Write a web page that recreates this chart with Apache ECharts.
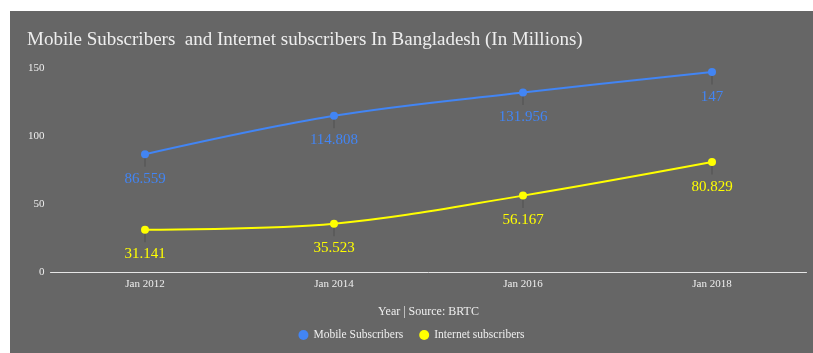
<!DOCTYPE html>
<html>
<head>
<meta charset="utf-8">
<script src="https://cdn.jsdelivr.net/npm/echarts@6/dist/echarts.min.js"></script>
<style>
  html, body { margin: 0; padding: 0; background: #ffffff; }
  #chart { position: absolute; left: 10px; top: 11px; width: 803px; height: 342px; }
</style>
</head>
<body>
<div id="chart"></div>
<script>
const categories = ['Jan 2012', 'Jan 2014', 'Jan 2016', 'Jan 2018'];
const mobileSubscribers = [86.559, 114.808, 131.956, 147];
const internetSubscribers = [31.141, 35.523, 56.167, 80.829];
const seriesNames = ['Mobile Subscribers', 'Internet subscribers'];
const titleText = 'Mobile Subscribers  and Internet subscribers In Bangladesh (In Millions)';
const xAxisName = 'Year | Source: BRTC';

const FONT = '"Liberation Serif", "DejaVu Serif", serif';
const BLUE = '#4285F4';
const YELLOW = '#FFFF00';
const LEADER = '#595959';

function leaderSeries(data) {
  return {
    type: 'scatter',
    data: data,
    symbol: 'rect',
    symbolSize: [2, 13],
    symbolOffset: [0, 6],
    itemStyle: { color: LEADER },
    silent: true,
    z: 1,
    legendHoverLink: false,
    tooltip: { show: false }
  };
}

function lineSeries(name, data, color) {
  return {
    name: name,
    type: 'line',
    data: data,
    smooth: 0.35,
    symbol: 'circle',
    symbolSize: 8,
    z: 3,
    lineStyle: { color: color, width: 2 },
    itemStyle: { color: color },
    label: {
      show: true,
      position: 'bottom',
      distance: 13,
      color: color,
      fontFamily: FONT,
      fontSize: 15,
      formatter: p => String(p.value)
    }
  };
}

const chart = echarts.init(document.getElementById('chart'), null, { renderer: 'canvas' });
chart.setOption({
  animation: false,
  backgroundColor: '#666666',
  textStyle: { fontFamily: FONT },
  title: {
    text: titleText,
    left: 17,
    top: 20,
    padding: 0,
    textStyle: { color: '#eeeeee', fontFamily: FONT, fontSize: 19, fontWeight: 'normal' }
  },
  legend: {
    bottom: 7,
    left: 'center',
    data: seriesNames,
    icon: 'circle',
    itemWidth: 10,
    itemHeight: 10,
    itemGap: 16,
    textStyle: { color: '#eeeeee', fontFamily: FONT, fontSize: 11.5 }
  },
  grid: { left: 40.5, right: 6.5, top: 57, bottom: 81 },
  xAxis: {
    type: 'category',
    data: categories,
    boundaryGap: true,
    name: xAxisName,
    nameLocation: 'middle',
    nameGap: 34,
    nameTextStyle: { color: '#eeeeee', fontFamily: FONT, fontSize: 12 },
    axisLine: { lineStyle: { color: '#e6e6e6', width: 1 } },
    axisTick: { show: false },
    axisLabel: { color: '#eeeeee', fontFamily: FONT, fontSize: 11, margin: 7 }
  },
  yAxis: {
    type: 'value',
    min: 0,
    max: 150,
    interval: 50,
    axisLine: { show: false },
    axisTick: { show: false },
    splitLine: { show: false },
    axisLabel: { color: '#eeeeee', fontFamily: FONT, fontSize: 11, margin: 6 }
  },
  series: [
    leaderSeries(mobileSubscribers),
    leaderSeries(internetSubscribers),
    lineSeries(seriesNames[0], mobileSubscribers, BLUE),
    lineSeries(seriesNames[1], internetSubscribers, YELLOW)
  ]
});
</script>
</body>
</html>
